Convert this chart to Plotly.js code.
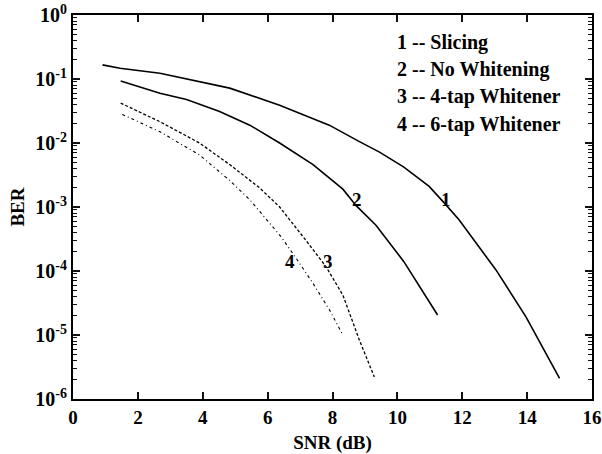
<!DOCTYPE html>
<html>
<head>
<meta charset="utf-8">
<script src="https://cdn.plot.ly/plotly-3.0.1.min.js"></script>
<style>html,body{margin:0;padding:0;background:#fff;}#chart{width:602px;height:454px;}</style>
</head>
<body>
<div id="chart"></div>
<script>
// Curve 1 -- Slicing
const snr1 = [0.91, 1.45, 2.68, 3.9, 4.83, 6.37, 7.9, 8.83, 9.45, 10.2, 10.98, 11.45, 11.9, 13.04, 13.96, 15.0];
const ber1 = [0.166, 0.147, 0.123, 0.091, 0.072, 0.039, 0.019, 0.0105, 0.0072, 0.0042, 0.0021, 0.00115, 0.00063, 1.04e-4, 1.94e-5, 2.1e-6];
// Curve 2 -- No Whitening
const snr2 = [1.47, 2.68, 3.5, 4.52, 5.45, 6.37, 7.4, 8.32, 8.73, 9.34, 10.2, 11.24];
const ber2 = [0.093, 0.060, 0.048, 0.031, 0.019, 0.010, 0.0046, 0.0019, 0.00105, 5.2e-4, 1.4e-4, 2.05e-5];
// Curve 3 -- 4-tap Whitener
const snr3 = [1.47, 2.68, 3.9, 4.83, 5.75, 6.37, 7.14, 7.8, 8.32, 8.83, 9.29];
const ber3 = [0.042, 0.0215, 0.010, 0.0046, 0.0020, 0.0010, 3.2e-4, 1.17e-4, 4.2e-5, 8.3e-6, 2.2e-6];
// Curve 4 -- 6-tap Whitener
const snr4 = [1.52, 2.68, 3.9, 4.83, 5.45, 6.42, 6.88, 7.4, 7.9, 8.32];
const ber4 = [0.028, 0.015, 0.0065, 0.0026, 0.0013, 3.4e-4, 1.58e-4, 6.4e-5, 2.5e-5, 1.0e-5];

const legendLines = ["1 -- Slicing", "2 -- No Whitening", "3 -- 4-tap Whitener", "4 -- 6-tap Whitener"];
const curveLabels = ["1", "2", "3", "4"];
const labelX = [11.5, 8.77, 7.85, 6.7];
const labelY = [1.3e-3, 1.3e-3, 1.4e-4, 1.4e-4];

const yTickVals = [1e-6, 1e-5, 1e-4, 1e-3, 1e-2, 1e-1, 1];
const yTickText = ["10<sup>-6</sup>", "10<sup>-5</sup>", "10<sup>-4</sup>", "10<sup>-3</sup>", "10<sup>-2</sup>", "10<sup>-1</sup>", "10<sup>0</sup>"];
const xTickVals = [0, 2, 4, 6, 8, 10, 12, 14, 16];
const decades = [-6, -5, -4, -3, -2, -1];
const minorDigits = [2, 3, 4, 5, 6, 7, 8, 9];
const yMinorVals = [];
decades.forEach(d => minorDigits.forEach(m => yMinorVals.push(m * Math.pow(10, d))));

const fam = "Liberation Serif, Times New Roman, serif";
const font = {family: fam, color: "#000", size: 19, weight: "bold"};

const traces = [
  {x: snr1, y: ber1, mode: "lines", line: {color: "#000", width: 1.6}},
  {x: snr2, y: ber2, mode: "lines", line: {color: "#000", width: 1.6}},
  {x: snr3, y: ber3, mode: "lines", line: {color: "#000", width: 1.3, dash: "3px,2px"}},
  {x: snr4, y: ber4, mode: "lines", line: {color: "#000", width: 1.1, dash: "3px,3px,1px,3px"}}
];

const annotations = [];
legendLines.forEach((t, i) => {
  annotations.push({xref: "paper", yref: "paper", x: 0.62, y: 1 - (27 + i * 27.5) / 384, xanchor: "left", yanchor: "middle",
    text: "<b>" + t + "</b>", showarrow: false, font: {family: fam, size: 20, color: "#000"}});
});
curveLabels.forEach((t, i) => {
  annotations.push({x: labelX[i], y: Math.log10(labelY[i]), text: "<b>" + t + "</b>", showarrow: false,
    font: {family: fam, size: 19, color: "#000"}});
});

const layout = {
  width: 602, height: 454,
  margin: {l: 73, r: 10, t: 15, b: 55},
  showlegend: false,
  font: font,
  xaxis: {
    range: [0, 16], tickmode: "linear", tick0: 0, dtick: 2, ticks: "inside", ticklen: 7, tickwidth: 2, tickcolor: "#111",
    showline: true, linecolor: "#000", linewidth: 2, mirror: "ticks", gridcolor: "rgba(255,255,255,0)", zeroline: false,
    layer: "above traces", ticklabeloverflow: "allow",
    tickfont: {family: fam, size: 19, color: "#000", weight: "bold"},
    title: {text: "<b>SNR (dB)</b>", font: {family: fam, size: 19, color: "#000"}, standoff: 10}
  },
  yaxis: {
    type: "log", range: [-6, 0], tickvals: yTickVals, ticktext: yTickText,
    ticks: "inside", ticklen: 7, tickwidth: 2, tickcolor: "#111",
    minor: {tickmode: "array", tickvals: yMinorVals, ticks: "inside", ticklen: 4, tickwidth: 1, tickcolor: "#111", showgrid: false},
    showline: true, linecolor: "#000", linewidth: 2, mirror: "ticks", gridcolor: "rgba(255,255,255,0)", zeroline: false,
    layer: "above traces", ticklabeloverflow: "allow",
    tickfont: {family: fam, size: 20, color: "#000", weight: "bold"},
    title: {text: "<b>BER</b>", font: {family: fam, size: 19, color: "#000"}, standoff: 6}
  },
  annotations: annotations
};

Plotly.newPlot("chart", traces, layout, {displayModeBar: false, staticPlot: true});
</script>
</body>
</html>
